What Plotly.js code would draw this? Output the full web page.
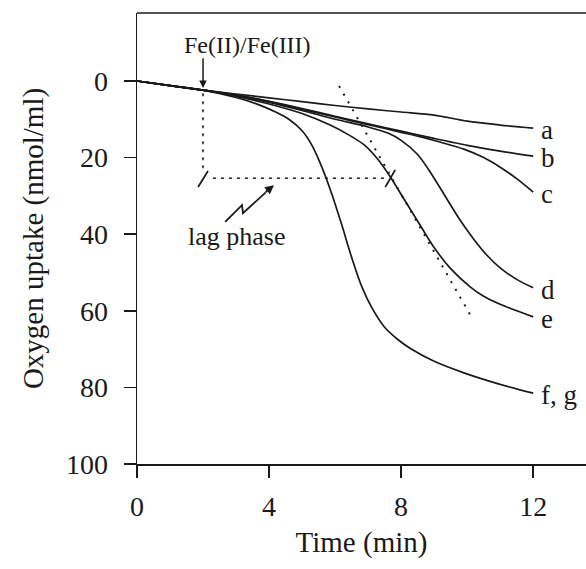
<!DOCTYPE html>
<html>
<head>
<meta charset="utf-8">
<script src="https://cdn.plot.ly/plotly-3.0.1.min.js"></script>
<style>html,body{margin:0;padding:0;background:#fff;}#chart{width:586px;height:569px;}</style>
</head>
<body>
<div id="chart"></div>
<script>
// Data (time in min, oxygen uptake in nmol/ml)
const tA = [0,1,2,3,4,5,6,7,8,9,10,11,12];
const yA = [0,1.2,2.4,3.4,4.4,5.4,6.4,7.3,8.1,8.9,10.5,11.5,12.3];
const tB = [0,1,2,3,4,5,6,7,8,9,10,11,12];
const yB = [0,1.2,2.4,3.6,5.3,7.2,9.2,11.2,13.1,15.0,16.8,18.3,19.6];
const tC = [0,1,2,3,4,5,6,7,8,8.6,9.2,9.9,10.5,11,11.5,12];
const yC = [0,1.2,2.4,3.7,5.4,7.4,9.4,11.4,13.4,14.6,16.0,17.8,20.0,22.5,25.5,29.0];
const tD = [0,1,2,3,4,5,6,7,7.6,8,8.5,8.9,9.4,9.8,10.2,10.6,11,11.5,12];
const yD = [0,1.2,2.4,3.8,5.6,7.7,10.0,12.0,13.6,15.5,19.2,24,31,36.5,41.3,45.5,48.8,51.8,54];
const tE = [0,1,2,3,4,5,5.85,6.4,6.9,7.3,7.67,8.1,8.6,9.0,9.5,10.1,10.5,11,12];
const yE = [0,1.2,2.4,4.0,6.0,8.5,11.5,14.0,16.8,20.5,25,31,38,43.5,49,53.8,56.2,58.3,61.6];
const tF = [0,1,2,3,3.6,4.2,4.6,5.0,5.3,5.6,5.9,6.2,6.5,6.8,7.1,7.5,7.9,8.27,9.0,9.9,11,12];
const yF = [0,1.2,2.4,4.3,5.9,8.1,10.0,13.0,16.8,22.5,29.5,37.5,46,53.5,59,64.3,67.5,69.8,73.2,76.2,79.2,81.5];
const curveLabels = ["a","b","c","d","e","f, g"];
const xTicks = [0,4,8,12];
const yTicks = [0,20,40,60,80,100];

const series = [[tA,yA],[tB,yB],[tC,yC],[tD,yD],[tE,yE],[tF,yF]];
const ink = "#1a1a1a";
const serif = "Liberation Serif, Times New Roman, serif";

const traces = series.map((s,i)=>({
  x: s[0], y: s[1], type: "scatter", mode: "lines",
  line: {color: ink, width: 1.7, shape: "spline", smoothing: 0.8},
  hoverinfo: "skip", showlegend: false, name: curveLabels[i]
}));

// Curve-end labels
const labelAnn = series.map((s,i)=>({
  x: s[0][s[0].length-1], y: s[1][s[1].length-1], xref: "x", yref: "y",
  text: curveLabels[i], showarrow: false, xanchor: "left", yanchor: "middle",
  xshift: 6, yshift: -2, font: {family: serif, size: 27, color: ink}
}));

const annotations = labelAnn.concat([
  {x: 2, y: -9.5, xref: "x", yref: "y", text: "Fe(II)/Fe(III)", showarrow: false,
   xanchor: "left", yanchor: "middle", xshift: -21, font: {family: serif, size: 24, color: ink}},
  {x: 2, y: 1.8, ax: 2, ay: -6.3, xref: "x", yref: "y", axref: "x", ayref: "y",
   text: "", showarrow: true, arrowhead: 2, arrowsize: 1, arrowwidth: 1.5, arrowcolor: ink},
  {x: 3.0, y: 40.5, xref: "x", yref: "y", text: "lag phase", showarrow: false,
   xanchor: "center", yanchor: "middle", font: {family: serif, size: 26, color: ink}},
  {x: 4.15, y: 27.2, ax: 3.85, ay: 29.3, xref: "x", yref: "y", axref: "x", ayref: "y",
   text: "", showarrow: true, arrowhead: 2, arrowsize: 1, arrowwidth: 1.8, arrowcolor: ink}
]);

const shapes = [
  // top frame
  {type: "line", xref: "paper", yref: "paper", x0: 0, x1: 1, y0: 1, y1: 1, line: {color: ink, width: 1.5}},
  // vertical dotted line at addition
  {type: "line", xref: "x", yref: "y", x0: 2, x1: 2, y0: 3.2, y1: 23.5, line: {color: ink, width: 1.5, dash: "3px,5px"}},
  // horizontal lag-phase dotted line
  {type: "line", xref: "x", yref: "y", x0: 2.3, x1: 7.6, y0: 25.4, y1: 25.4, line: {color: ink, width: 1.5, dash: "3px,5px"}},
  // slash marks
  {type: "line", xref: "x", yref: "y", x0: 1.85, x1: 2.15, y0: 27.7, y1: 23.5, line: {color: ink, width: 1.8}},
  {type: "line", xref: "x", yref: "y", x0: 7.52, x1: 7.82, y0: 27.7, y1: 23.2, line: {color: ink, width: 1.8}},
  // tangent dotted line
  {type: "line", xref: "x", yref: "y", x0: 6.12, x1: 10.15, y0: 1.3, y1: 61.9, line: {color: ink, width: 2, dash: "2px,7px"}},
  // zigzag arrow body
  {type: "path", xref: "x", yref: "y", path: "M 2.67 36.8 L 3.18 32.4 L 3.21 34.5 L 3.9 29.1", line: {color: ink, width: 1.8}}
];

const layout = {
  width: 586, height: 569,
  margin: {l: 137, r: 0, t: 13, b: 105},
  paper_bgcolor: "#fff", plot_bgcolor: "#fff",
  showlegend: false,
  xaxis: {
    range: [0, 13.6], tickvals: xTicks, ticktext: xTicks.map(String),
    ticks: "outside", ticklen: 12, tickwidth: 1.5, tickcolor: ink,
    showline: true, linewidth: 1.5, linecolor: ink, showgrid: false, zeroline: false,
    tickfont: {family: serif, size: 28, color: ink}, ticklabelstandoff: 5,
    title: {text: "Time (min)", font: {family: serif, size: 29, color: ink}, standoff: 10}
  },
  yaxis: {
    range: [100, -17.75], tickvals: yTicks, ticktext: yTicks.map(String),
    ticks: "outside", ticklen: 12, tickwidth: 1.5, tickcolor: ink,
    showline: true, linewidth: 1.5, linecolor: ink, showgrid: false, zeroline: false,
    tickfont: {family: serif, size: 28, color: ink}, ticklabelstandoff: 10,
    title: {text: "Oxygen uptake (nmol/ml)", font: {family: serif, size: 29, color: ink}, standoff: 14}
  },
  shapes: shapes,
  annotations: annotations
};

Plotly.newPlot("chart", traces, layout, {displayModeBar: false, staticPlot: true});
</script>
</body>
</html>
